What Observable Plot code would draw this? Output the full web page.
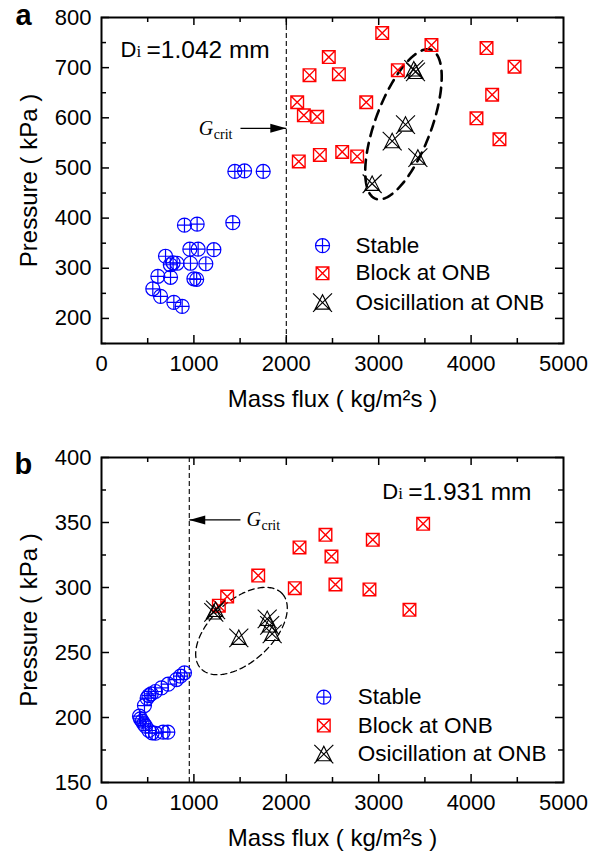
<!DOCTYPE html>
<html><head><meta charset="utf-8">
<script src="https://cdn.jsdelivr.net/npm/d3@7"></script>
<script src="https://cdn.jsdelivr.net/npm/@observablehq/plot@0.6"></script>
<style>body{margin:0;background:#fff;} #chart svg{display:block;}</style>
</head><body><div id="chart"></div>
<script>
// ---------- Panel a data (Di = 1.042 mm) ----------
const stableA_G = [898,1035,1421,956,1046,1216,693,745,775,818,963,1129,610,747,1000,1030,555,639,783,873,1443,1548,1750];
const stableA_P = [386,388,391,338,338,337,324,307,311,310,310,309,284,282,279,278,259,244,232,224,493,494,493];
const blockA_G = [3038,3571,4167,4470,2460,2251,2569,3207,2118,2865,4228,2190,2334,4058,4307,2135,2363,2605,2767];
const blockA_P = [769,745,739,702,721,685,687,695,631,631,646,605,602,599,557,513,526,532,523];
const oscA_G = [3398,3380,3290,3146,3424,2929];
const oscA_P = [692,697,587,554,521,469];

// ---------- Panel b data (Di = 1.931 mm) ----------
const stableB_G = [898,855,812,722,649,584,538,512,494,465,411,422,440,458,476,512,548,584,667,718];
const stableB_P = [234.4,231.8,229.2,225.6,222.8,220,218.1,216.9,214.9,209.2,201,199,197.2,195.1,193.3,190,188.2,187.9,188.7,188.7];
const blockB_G = [3481,2424,2936,2143,2489,2092,2532,2900,3333,1696,1360,1270];
const blockB_P = [349,340.5,336.7,330.8,323.8,299.5,302.3,298.5,282.8,309.2,293,286];
const oscB_G = [1215,1235,1486,1793,1820,1847];
const oscB_P = [281,283,261.5,276,271,264.5];

// ---------- Ticks / labels ----------
const xMajor = [0,1000,2000,3000,4000,5000];
const xMinor = [500,1500,2500,3500,4500];
const yMajorA = [200,300,400,500,600,700,800];
const yMinorA = [150,250,350,450,550,650,750];
const yMajorB = [150,200,250,300,350,400];
const yMinorB = [175,225,275,325,375];
const legendLabels = ["Stable","Block at ONB","Osicillation at ONB"];
const xTitle = "Mass flux ( kg/m²s )";
const yTitle = "Pressure ( kPa )";
const gCritA = 2000, gCritB = 950;

// ---------- Custom symbols ----------
const symCirclePlus = {draw(c,size){const r=Math.sqrt(size/Math.PI);c.moveTo(r,0);c.arc(0,0,r,0,2*Math.PI);c.moveTo(-r,0);c.lineTo(r,0);c.moveTo(0,-r);c.lineTo(0,r);}};
const symSquareX = {draw(c,size){const s=Math.sqrt(size/Math.PI);c.moveTo(-s,-s);c.lineTo(s,-s);c.lineTo(s,s);c.lineTo(-s,s);c.closePath();c.moveTo(-s,-s);c.lineTo(s,s);c.moveTo(s,-s);c.lineTo(-s,s);}};
const symTriX = {draw(c,size){const r=Math.sqrt(size/Math.PI);c.moveTo(0,-0.8*r);c.lineTo(0.78*r,0.72*r);c.lineTo(-0.78*r,0.72*r);c.closePath();c.moveTo(-r,-0.95*r);c.lineTo(r,r);c.moveTo(r,-0.95*r);c.lineTo(-r,r);}};
const symHead = {draw(c){c.moveTo(0,0);c.lineTo(-16,-4.5);c.lineTo(-16,4.5);c.closePath();}};

const zip = (g,p) => g.map((v,i)=>({x:v,y:p[i]}));
const FONT = "Liberation Sans";

function panel(cfg){
  const W = 599;
  const innerW = W - cfg.ml - cfg.mr, innerH = cfg.h - cfg.mt - cfg.mb;
  const kx = innerW/(cfg.xd[1]-cfg.xd[0]), ky = innerH/(cfg.yd[1]-cfg.yd[0]);
  const e = cfg.ell, th = e.angle*Math.PI/180;
  const ell = d3.range(0, 361, 2).map(deg => {
    const t = deg*Math.PI/180, u = e.a*Math.cos(t), v = e.b*Math.sin(t);
    return {x: e.cx + (u*Math.cos(th) - v*Math.sin(th))/kx, y: e.cy + (u*Math.sin(th) + v*Math.cos(th))/ky};
  });
  const lg = cfg.legend;
  const legRows = legendLabels.map((l,i)=>({label:l, y: lg.ys[i]}));
  const syms = [symCirclePlus, symSquareX, symTriX];
  const cols = ["#0000ff","#ff0000","#000000"];
  const rs = [7, 6.3, 9.5];
  const tickLen = 8, minorLen = 5;
  return Plot.plot({
    width: W, height: cfg.h,
    marginLeft: cfg.ml, marginRight: cfg.mr, marginTop: cfg.mt, marginBottom: cfg.mb,
    x: {domain: cfg.xd}, y: {domain: cfg.yd},
    style: {fontFamily: FONT, background: "#fff", color: "#000", overflow: "visible"},
    marks: [
      Plot.line(ell, {x:"x", y:"y", stroke:"#000", strokeWidth: e.sw, strokeDasharray: e.dash}),
      Plot.ruleX([cfg.gcrit], {stroke:"#000", strokeWidth:1.1, strokeDasharray:"5,3"}),
      Plot.link([cfg.arrow], {x1:"x1", x2:"x2", y1:"y", y2:"y", stroke:"#000", strokeWidth:1.3}),
      Plot.dot([cfg.arrow], {x:"x2", y:"y", symbol: symHead, fill:"#000", stroke:"none", rotate: cfg.arrow.rot}),
      Plot.dot(zip(cfg.stableG, cfg.stableP), {x:"x", y:"y", symbol: symCirclePlus, r: 7, stroke: cols[0], fill:"none", strokeWidth:1.2}),
      Plot.dot(zip(cfg.blockG, cfg.blockP), {x:"x", y:"y", symbol: symSquareX, r: 6.3, stroke: cols[1], fill:"none", strokeWidth:1.4}),
      Plot.dot(zip(cfg.oscG, cfg.oscP), {x:"x", y:"y", symbol: symTriX, r: 9.5, stroke: cols[2], fill:"none", strokeWidth:1.1}),
      // legend
      ...legRows.map((d,i)=>Plot.dot([d], {x: ()=>lg.sx, y:"y", symbol: syms[i], r: rs[i], stroke: cols[i], fill:"none", strokeWidth: i===1?1.4:1.2})),
      Plot.text(legRows, {x: ()=>lg.tx, y:"y", text:"label", textAnchor:"start", lineAnchor:"middle", fontSize:22.5, fill:"#000"}),
      // inward ticks
      Plot.ruleX(xMajor.slice(1,-1), {insetTop: innerH - tickLen, stroke:"#000", strokeWidth:1.5}),
      Plot.ruleX(xMajor.slice(1,-1), {insetBottom: innerH - tickLen, stroke:"#000", strokeWidth:1.5}),
      Plot.ruleX(xMinor, {insetTop: innerH - minorLen, stroke:"#000", strokeWidth:1.5}),
      Plot.ruleX(xMinor, {insetBottom: innerH - minorLen, stroke:"#000", strokeWidth:1.5}),
      Plot.ruleY(cfg.yMajor, {insetRight: innerW - tickLen, stroke:"#000", strokeWidth:1.5}),
      Plot.ruleY(cfg.yMajor, {insetLeft: innerW - tickLen, stroke:"#000", strokeWidth:1.5}),
      Plot.ruleY(cfg.yMinor, {insetRight: innerW - minorLen, stroke:"#000", strokeWidth:1.5}),
      Plot.ruleY(cfg.yMinor, {insetLeft: innerW - minorLen, stroke:"#000", strokeWidth:1.5}),
      Plot.frame({stroke:"#000", strokeWidth:2}),
      Plot.axisX({ticks: xMajor, tickSize:0, tickPadding:12, tickFormat: d=>String(d), fontSize:22, label:null}),
      Plot.axisY({ticks: cfg.yMajor, tickSize:0, tickPadding:10, tickFormat: d=>String(d), fontSize:22, label:null}),
      Plot.text([xTitle], {frameAnchor:"bottom", dy:56, textAnchor:"middle", lineAnchor:"middle", fontSize:24, fill:"#000"}),
      Plot.text([yTitle], {frameAnchor:"left", dx:-72, rotate:-90, textAnchor:"middle", lineAnchor:"middle", fontSize:24, fill:"#000"}),
      // Di annotation
      Plot.text(["D"], {x: ()=>cfg.di.x, y: ()=>cfg.di.y, textAnchor:"start", lineAnchor:"middle", fontSize:22, fill:"#000"}),
      Plot.text(["i"], {x: ()=>cfg.di.x, y: ()=>cfg.di.y, dx:16, dy:1, textAnchor:"start", lineAnchor:"middle", fontSize:17, fontFamily:"Liberation Serif", fill:"#000"}),
      Plot.text([cfg.di.text], {x: ()=>cfg.di.x, y: ()=>cfg.di.y, dx:26, textAnchor:"start", lineAnchor:"middle", fontSize:24.5, fill:"#000"}),
      // G crit annotation
      Plot.text(["G"], {x: ()=>cfg.g.x, y: ()=>cfg.g.y, textAnchor:"start", lineAnchor:"middle", fontSize:20, fontStyle:"italic", fontFamily:"Liberation Serif", fill:"#000"}),
      Plot.text(["crit"], {x: ()=>cfg.g.x, y: ()=>cfg.g.y, dx:15, dy:6, textAnchor:"start", lineAnchor:"middle", fontSize:14, fontFamily:"Liberation Serif", fill:"#000"}),
      // panel letter
      Plot.text([cfg.letter], {frameAnchor:"top-left", dx: cfg.letterDx, dy: cfg.letterDy, textAnchor:"start", lineAnchor:"middle", fontSize:29, fontWeight:"bold", fill:"#000"})
    ]
  });
}

const root = document.getElementById("chart");
root.appendChild(panel({
  h: 427, ml: 101, mr: 36, mt: 17, mb: 84,
  xd: [0,5000], yd: [150,800], yMajor: yMajorA, yMinor: yMinorA,
  stableG: stableA_G, stableP: stableA_P, blockG: blockA_G, blockP: blockA_P, oscG: oscA_G, oscP: oscA_P,
  gcrit: gCritA,
  ell: {cx: 3268, cy: 587, a: 79.5, b: 28, angle: 69.5, sw: 2.6, dash: "10,7"},
  arrow: {x1: 1504, x2: 2000, y: 579, rot: 0},
  legend: {sx: 2392, tx: 2749, ys: [345, 290, 232]},
  di: {x: 206, y: 735, text: "=1.042 mm"},
  g: {x: 1053, y: 579},
  letter: "a", letterDx: -86, letterDy: -1.5
}));
root.appendChild(panel({
  h: 426, ml: 101, mr: 36, mt: 30, mb: 71,
  xd: [0,5000], yd: [150,400], yMajor: yMajorB, yMinor: yMinorB,
  stableG: stableB_G, stableP: stableB_P, blockG: blockB_G, blockP: blockB_P, oscG: oscB_G, oscP: oscB_P,
  gcrit: gCritB,
  ell: {cx: 1515, cy: 266.5, a: 55.3, b: 30.8, angle: 42.4, sw: 1.3, dash: "6,4"},
  arrow: {x1: 1504, x2: gCritB, y: 352, rot: 180},
  legend: {sx: 2406, tx: 2774, ys: [215.6, 193.8, 172]},
  di: {x: 3038, y: 373.3, text: "=1.931 mm"},
  g: {x: 1569, y: 352},
  letter: "b", letterDx: -87, letterDy: 7.5
}));
</script>
</body></html>
